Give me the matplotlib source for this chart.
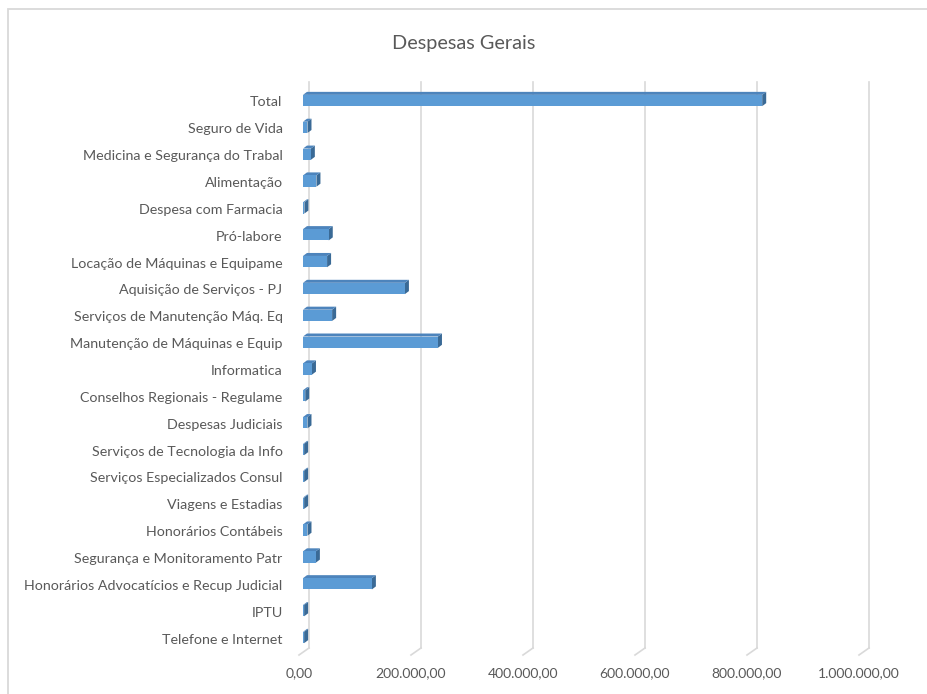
import numpy as np
import matplotlib
matplotlib.use('Agg')
import matplotlib.pyplot as plt
from matplotlib.patches import Polygon, Rectangle
from matplotlib.transforms import ScaledTranslation

categories = ['Total', 'Seguro de Vida', 'Medicina e Segurança do Trabal', 'Alimentação',
              'Despesa com Farmacia', 'Pró-labore', 'Locação de Máquinas e Equipame',
              'Aquisição de Serviços - PJ', 'Serviços de Manutenção Máq. Eq',
              'Manutenção de Máquinas e Equip', 'Informatica', 'Conselhos Regionais - Regulame',
              'Despesas Judiciais', 'Serviços de Tecnologia da Info', 'Serviços Especializados Consul',
              'Viagens e Estadias', 'Honorários Contábeis', 'Segurança e Monitoramento Patr',
              'Honorários Advocatícios e Recup Judicial', 'IPTU', 'Telefone e Internet']
valores = [820000, 8000, 14000, 24000, 2500, 46000, 43000, 182000, 52000, 241000, 16000,
           4000, 8000, 2000, 2000, 2000, 8000, 23000, 123000, 2000, 2000]
xticks = [0, 200000, 400000, 600000, 800000, 1000000]
xlabels = ['0,00', '200.000,00', '400.000,00', '600.000,00', '800.000,00', '1.000.000,00']

cinza = '#595959'
grade = '#d9d9d9'
frente = '#5b9bd5'
topo = '#4d84bc'
lado = '#3a6a96'

plt.rcParams['font.family'] = ['Lato', 'DejaVu Sans']

W, H = 927, 694
fig = plt.figure(figsize=(W / 100, H / 100), dpi=100)
ax = fig.add_axes([309 / W, (H - 648) / H, (869 - 309) / W, (648 - 82) / H])

n = len(categories)
ypos = np.arange(n)[::-1]  # Total no topo
ax.set_xlim(0, 1000000)
ax.set_ylim(-0.54, n - 1 + 0.54)
for s in ax.spines.values():
    s.set_visible(False)


def desloca(x, y, ox, oy):
    d = ax.transData.transform((x, y))
    return ax.transData.inverted().transform((d[0] + ox, d[1] + oy))


# grade com piso em perspectiva
y0, y1 = ax.get_ylim()
for xt in xticks:
    ax.plot([xt, xt], [y0, y1], color=grade, lw=1.2, zorder=1, clip_on=False)
    p = desloca(xt, y0, -10, -7)
    ax.plot([xt, p[0]], [y0, p[1]], color=grade, lw=1.2, zorder=1, clip_on=False)

# barras 3D
h = 0.42
fx, fy = -6, -4
bx, by = -2, -1
for y, v in zip(ypos, valores):
    lo, hi = y - h / 2, y + h / 2
    lado_pts = [desloca(v, lo, fx, fy), desloca(v, hi, fx, fy), desloca(v, hi, bx, by), desloca(v, lo, bx, by)]
    topo_pts = [desloca(0, hi, fx, fy), desloca(v, hi, fx, fy), desloca(v, hi, bx, by), desloca(0, hi, bx, by)]
    frente_pts = [desloca(0, lo, fx, fy), desloca(v, lo, fx, fy), desloca(v, hi, fx, fy), desloca(0, hi, fx, fy)]
    ax.add_patch(Polygon(lado_pts, closed=True, fc=lado, ec='none', zorder=3, clip_on=False))
    ax.add_patch(Polygon(topo_pts, closed=True, fc=topo, ec='none', zorder=3, clip_on=False))
    ax.add_patch(Polygon(frente_pts, closed=True, fc=frente, ec='none', zorder=4, clip_on=False))

ax.set_yticks(ypos)
ax.set_yticklabels(categories, fontsize=10.3, color=cinza)
ax.tick_params(axis='y', length=0, pad=19)
for lbl in ax.get_yticklabels():
    lbl.set_transform(lbl.get_transform() + ScaledTranslation(0, -5 / 100, fig.dpi_scale_trans))

ax.set_xticks(xticks)
ax.set_xticklabels(xlabels, fontsize=10, color=cinza)
ax.tick_params(axis='x', length=0, pad=14)
for lbl in ax.get_xticklabels():
    lbl.set_transform(lbl.get_transform() + ScaledTranslation(-10 / 100, 0, fig.dpi_scale_trans))

fig.text(464 / W, 1 - 43 / H, 'Despesas Gerais', ha='center', va='center', fontsize=14.3, color=cinza)

fig.add_artist(Rectangle((8 / W, -0.1), 1.2, (H - 9) / H + 0.1, transform=fig.transFigure,
                         fill=False, ec=grade, lw=1.3))

fig.savefig('out.png', dpi=100)
